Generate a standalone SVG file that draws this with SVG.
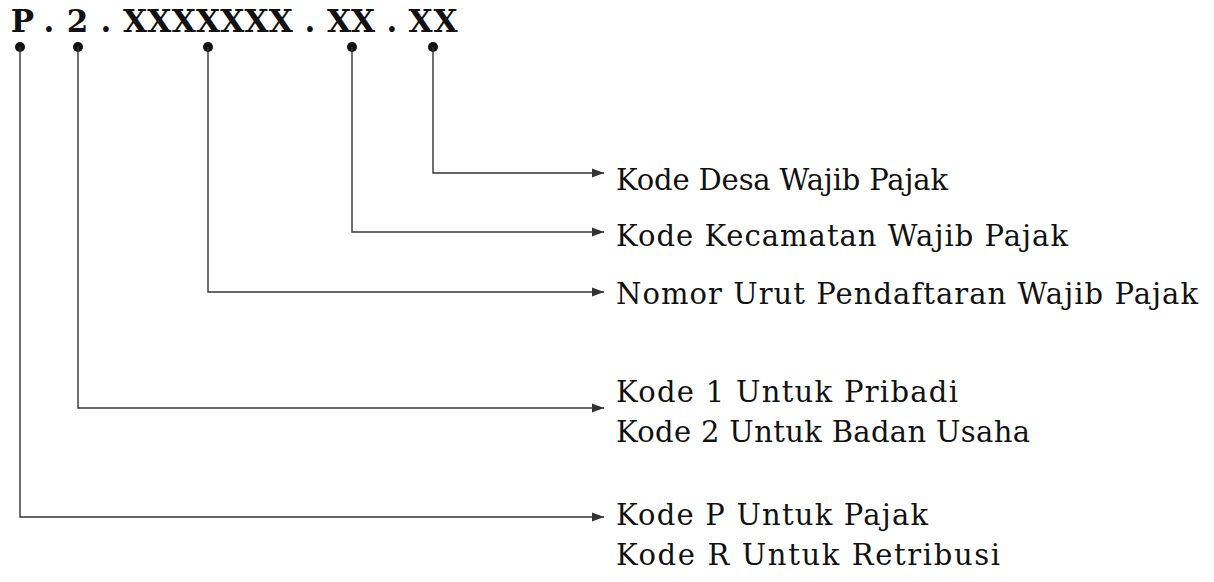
<svg xmlns="http://www.w3.org/2000/svg" width="1214" height="582" viewBox="0 0 1214 582">
<style>
.code{font-family:"DejaVu Serif","Liberation Serif",serif;font-weight:bold;font-size:31px;fill:#111;text-anchor:middle}
.lbl{font-family:"DejaVu Serif","Liberation Serif",serif;font-size:29px;fill:#111}
.con{fill:none;stroke:#333;stroke-width:1.4}
.dot{fill:#111}
</style>
<defs>
<marker id="arr" viewBox="0 0 12 10" refX="12" refY="5" markerWidth="12" markerHeight="10" markerUnits="userSpaceOnUse" orient="auto">
<path d="M0,0.5 L12,5 L0,9.5 Z" fill="#333"/>
</marker>
</defs>
<rect width="1214" height="582" fill="#fff"/>
<g id="code">
<text class="code" y="32" x="22.5 49 77.5 106 135.1 159.4 183.7 208 232.3 256.6 280.9 310 339 363 392 420.5 445.5">P.2.XXXXXXX.XX.XX</text>
</g>
<g id="connectors">
<circle class="dot" cx="20" cy="47" r="5"/>
<circle class="dot" cx="78" cy="47" r="5"/>
<circle class="dot" cx="208" cy="47" r="5"/>
<circle class="dot" cx="352" cy="47" r="5"/>
<circle class="dot" cx="433" cy="47" r="5"/>
<path class="con" d="M433,47 V173 H604" marker-end="url(#arr)"/>
<path class="con" d="M352,47 V232 H604" marker-end="url(#arr)"/>
<path class="con" d="M208,47 V292 H604" marker-end="url(#arr)"/>
<path class="con" d="M78,47 V408 H604" marker-end="url(#arr)"/>
<path class="con" d="M20,47 V517 H604" marker-end="url(#arr)"/>
</g>
<g id="desa"><text class="lbl" x="616" y="190" textLength="332">Kode Desa Wajib Pajak</text></g>
<g id="kecamatan"><text class="lbl" x="616" y="246" textLength="452">Kode Kecamatan Wajib Pajak</text></g>
<g id="nomor"><text class="lbl" x="616" y="304" textLength="582">Nomor Urut Pendaftaran Wajib Pajak</text></g>
<g id="jenis"><text class="lbl" x="616" y="402" textLength="342">Kode 1 Untuk Pribadi</text><text class="lbl" x="616" y="442" textLength="414">Kode 2 Untuk Badan Usaha</text></g>
<g id="kategori"><text class="lbl" x="616" y="525" textLength="312">Kode P Untuk Pajak</text><text class="lbl" x="616" y="565" textLength="384">Kode R Untuk Retribusi</text></g>
</svg>
